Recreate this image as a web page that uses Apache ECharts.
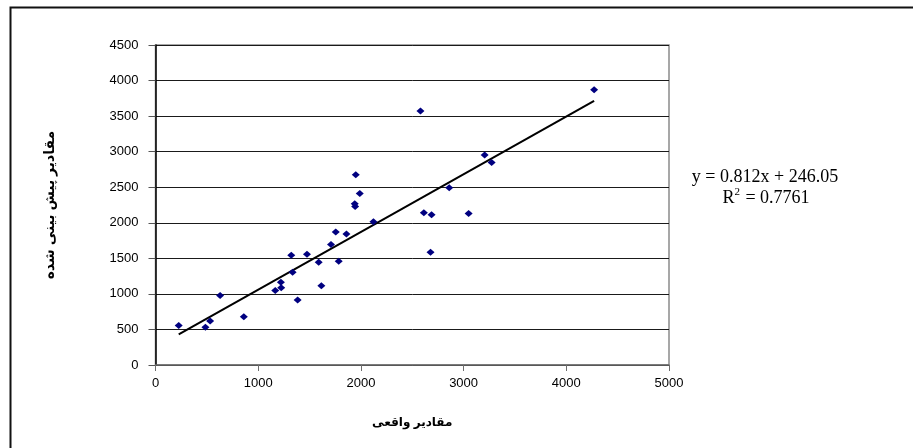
<!DOCTYPE html>
<html>
<head>
<meta charset="utf-8">
<script src="https://cdn.jsdelivr.net/npm/echarts@6/dist/echarts.min.js"></script>
<style>
html,body{margin:0;padding:0;background:#fff;}
#chart{width:913px;height:448px;}
</style>
</head>
<body>
<div id="chart"></div>
<script>
// Data
var actualValues = [226, 486, 532, 629, 860, 1166, 1224, 1221, 1384, 1335, 1322, 1475, 1615, 1589, 1784, 1709, 1755, 1859, 1940, 1944, 2122, 1950, 1989, 2580, 4271, 3205, 3273, 2860, 2613, 2688, 3049, 2678];
var predictedValues = [555, 531, 620, 976, 680, 1047, 1085, 1165, 915, 1305, 1545, 1559, 1113, 1446, 1460, 1694, 1869, 1841, 2268, 2230, 2014, 2676, 2413, 3573, 3869, 2953, 2849, 2493, 2141, 2113, 2131, 1587];
var xTicks = [0, 1000, 2000, 3000, 4000, 5000];
var yTicks = [0, 500, 1000, 1500, 2000, 2500, 3000, 3500, 4000, 4500];
var trendSlope = 0.812;
var trendIntercept = 246.05;
var rSquared = 0.7761;
var xTitle = 'مقادیر واقعی';
var yTitle = 'مقادیر پیش بینی شده';

var points = actualValues.map(function (v, i) { return [v, predictedValues[i]]; });
var xMin = Math.min.apply(null, actualValues);
var xMax = Math.max.apply(null, actualValues);
var trend = [[xMin, trendSlope * xMin + trendIntercept], [xMax, trendSlope * xMax + trendIntercept]];

var chart = echarts.init(document.getElementById('chart'));
var sansFont = 'Liberation Sans, Arial, DejaVu Sans, sans-serif';
var serifFont = '"Liberation Serif", "Times New Roman", serif';
chart.setOption({
  animation: false,
  backgroundColor: '#fff',
  grid: { left: 155.5, right: 244, top: 45, bottom: 83, show: true, borderColor: '#8a8a8a', borderWidth: 1.5 },
  xAxis: {
    type: 'value', min: xTicks[0], max: xTicks[xTicks.length - 1], interval: 1000,
    name: xTitle, nameLocation: 'middle', nameGap: 52,
    nameTextStyle: { fontFamily: sansFont, fontWeight: 'bold', fontSize: 12, color: '#000' },
    axisLine: { show: true, lineStyle: { color: '#6e6e6e', width: 1.5 } },
    axisTick: { show: true, inside: false, length: 6, lineStyle: { color: '#6e6e6e' } },
    axisLabel: { fontFamily: sansFont, fontSize: 13, color: '#000', margin: 12, formatter: function (v) { return String(v); } },
    splitLine: { show: false }
  },
  yAxis: {
    type: 'value', min: yTicks[0], max: yTicks[yTicks.length - 1], interval: 500,
    name: yTitle, nameLocation: 'middle', nameGap: 98, nameRotate: 90,
    nameTextStyle: { fontFamily: sansFont, fontWeight: 'bold', fontSize: 14, color: '#000' },
    axisLine: { show: true, lineStyle: { color: '#000', width: 1.5 } },
    axisTick: { show: true, inside: false, length: 7, lineStyle: { color: '#555' } },
    axisLabel: { fontFamily: sansFont, fontSize: 13, color: '#000', margin: 17, formatter: function (v) { return String(v); } },
    splitLine: { show: true, lineStyle: { color: '#1a1a1a', width: 1 } }
  },
  series: [
    {
      type: 'scatter', data: points, symbol: 'diamond', symbolSize: [8, 7],
      itemStyle: { color: '#000080', opacity: 1 }, z: 3
    },
    {
      type: 'line', data: trend, symbol: 'none', silent: true,
      lineStyle: { color: '#000', width: 2 }, z: 2
    }
  ],
  graphic: [
    {
      type: 'rect', left: 8, top: 5,
      shape: { x: 0, y: 0, width: 930, height: 470 },
      style: { fill: 'none', stroke: '#111', lineWidth: 2 }, silent: true
    },
    {
      type: 'text', x: 765, y: 177,
      style: {
        text: 'y = ' + trendSlope + 'x + ' + trendIntercept.toFixed(2),
        font: '18px ' + serifFont, fill: '#000', textAlign: 'center', textVerticalAlign: 'middle'
      }
    },
    {
      type: 'text', x: 766, y: 197,
      style: {
        text: '{a|R}{s|2}{a| = ' + rSquared + '}',
        textAlign: 'center', textVerticalAlign: 'middle',
        rich: {
          a: { fontFamily: serifFont, fontSize: 18, color: '#000', verticalAlign: 'bottom', lineHeight: 20 },
          s: { fontFamily: serifFont, fontSize: 11, color: '#000', verticalAlign: 'top', lineHeight: 20, padding: [0, 1, 8, 0] }
        }
      }
    }
  ]
});
</script>
</body>
</html>
